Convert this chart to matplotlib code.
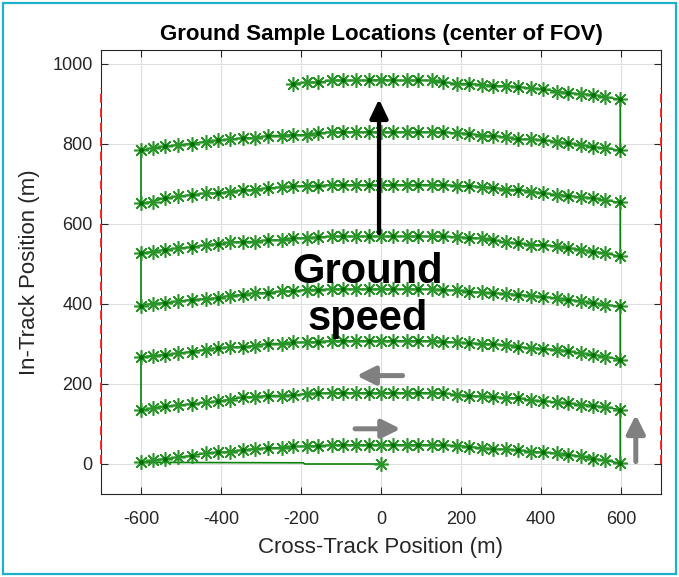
import matplotlib
matplotlib.use("Agg")
import matplotlib.pyplot as plt
from matplotlib.patches import Rectangle

# ---------------- data ----------------
x_cols = [-600, -571, -540, -507, -473, -438, -407, -378, -344, -315, -282, -248, -219,
          -186, -157, -123, -94, -63, -29, 0, 31, 64, 93, 127, 156, 189, 221, 252, 281,
          312, 343, 375, 406, 439, 468, 499, 531, 560, 598]

row1_y = [4, 9, 13, 17, 21, 27, 29, 31, 35, 38, 40, 41, 44, 44, 46, 47, 48, 48, 48, 48,
          48, 48, 48, 48, 47, 46, 43, 40, 37, 37, 34, 31, 29, 27, 23, 19, 13, 9, 2]
row2_y = [134, 140, 144, 147, 150, 154, 157, 161, 167, 168, 171, 171, 172, 176, 177, 178,
          178, 178, 178, 178, 178, 178, 178, 178, 177, 173, 171, 169, 168, 165, 165, 159,
          157, 155, 152, 148, 146, 142, 136]
row3_y = [267, 271, 273, 277, 281, 286, 290, 292, 293, 296, 301, 301, 304, 304, 306, 308,
          308, 308, 308, 308, 308, 308, 308, 308, 306, 304, 302, 301, 299, 298, 293, 290,
          288, 286, 282, 277, 273, 268, 261]
row4_y = [396, 401, 403, 407, 411, 413, 415, 421, 423, 428, 428, 432, 432, 436, 436, 437,
          437, 437, 437, 437, 437, 437, 437, 437, 435, 434, 431, 429, 427, 426, 423, 421,
          418, 415, 411, 407, 403, 398, 394]
row5_y = [527, 531, 535, 540, 542, 548, 550, 554, 556, 556, 560, 560, 565, 565, 567, 569,
          569, 569, 569, 569, 569, 569, 569, 569, 569, 567, 566, 564, 560, 554, 552, 548,
          548, 544, 540, 536, 531, 527, 519]
row6_y = [652, 656, 665, 669, 673, 677, 677, 681, 684, 686, 690, 692, 694, 696, 696, 698,
          698, 698, 698, 698, 698, 698, 698, 698, 698, 696, 695, 693, 691, 686, 686, 681,
          677, 673, 671, 667, 665, 659, 654]
row7_y = [784, 790, 794, 798, 801, 806, 809, 812, 815, 815, 821, 821, 823, 823, 827, 830,
          830, 830, 830, 830, 830, 830, 830, 830, 830, 827, 826, 821, 821, 817, 812, 812,
          809, 806, 802, 798, 792, 790, 784]
# partial last row starts at column index 12 (x = -219)
row8_start = 12
row8_y = [951, 954, 954, 959, 959, 959, 959, 961, 959, 959, 959, 959, 954, 951, 951, 948,
          946, 945, 943, 939, 937, 931, 928, 925, 923, 917, 912]

# path from the start point (0,0) back to the first row
approach_x = [0, -190, -195, -600]
approach_y = [0, 0, 3, 4]

# field-of-view edges (red dashed)
fov_x = [-700, 700]
fov_y = [0, 940]

# annotation arrows: (tail, tip)
speed_arrow = ((-5, 577), (-5, 912))
gray_arrows = [((54, 221), (-61, 221)),
               ((-65, 88), (49, 88)),
               ((637, 6), (637, 123))]
speed_text_x = -34
speed_text_y = [453, 335]
speed_text = ["Ground", "speed"]

xticks = [-600, -400, -200, 0, 200, 400, 600]
yticks = [0, 200, 400, 600, 800, 1000]

# ---------------- figure ----------------
plt.rcParams["font.family"] = ["Liberation Sans", "DejaVu Sans"]
plt.rcParams["axes.unicode_minus"] = False

W, H = 679, 577
fig = plt.figure(figsize=(W / 100, H / 100), dpi=100)
ax = fig.add_axes([101 / W, (H - 494) / H, (661 - 101) / W, (494 - 50) / H])

ax.set_xlim(-700, 700)
ax.set_ylim(-75, 1035)

line_green = "#0a820a"
star_green = "#2a962a"
dot_green = "#006e00"

rows = [row1_y, row2_y, row3_y, row4_y, row5_y, row6_y, row7_y]
px, py = list(approach_x), list(approach_y)
for i, ry in enumerate(rows):
    if i % 2 == 0:
        px += x_cols
        py += ry
    else:
        px += x_cols[::-1]
        py += ry[::-1]
row8_x = x_cols[row8_start:]
px += row8_x[::-1]
py += row8_y[::-1]

ax.plot(px, py, color=line_green, lw=1.2, zorder=3)

ast = (8, 2, 0)
MS, MEW = 10.5, 1.15
for ry in rows:
    ax.plot(x_cols, ry, ls="none", marker=ast, ms=MS, mew=MEW, color=star_green, zorder=4)
    ax.plot(x_cols, ry, ls="none", marker="o", ms=3.4, markevery=2, color=dot_green,
            mec="none", zorder=5)
ax.plot(row8_x, row8_y, ls="none", marker=ast, ms=MS, mew=MEW, color=star_green, zorder=4)
ax.plot(row8_x, row8_y, ls="none", marker="o", ms=3.4, markevery=2, color=dot_green,
        mec="none", zorder=5)
ax.plot(approach_x[:1], approach_y[:1], ls="none", marker=ast, ms=MS, mew=MEW,
        color=star_green, zorder=4)

for xe in fov_x:
    ax.plot([xe, xe], fov_y, color="#ff1a1a", ls=(0, (5, 3)), lw=1.3, clip_on=False, zorder=6)

# axes styling (MATLAB-like)
ax.set_xticks(xticks)
ax.set_yticks(yticks)
ax.grid(True, color="#dedede", lw=0.8)
ax.set_axisbelow(True)
for s in ax.spines.values():
    s.set_color("#262626")
    s.set_linewidth(0.8)
ax.tick_params(direction="in", length=5, width=0.8, top=True, right=True,
               color="#262626", labelcolor="#262626", labelsize=13)
ax.tick_params(axis="x", pad=12)
ax.tick_params(axis="y", pad=6)

ax.set_title("Ground Sample Locations (center of FOV)", fontsize=16, fontweight="bold",
             color="black", pad=7)
ax.set_xlabel("Cross-Track Position (m)", fontsize=16, color="#262626", labelpad=7)
ax.set_ylabel("In-Track Position (m)", fontsize=16, color="#262626", labelpad=9)

# annotations
ax.annotate("", xy=speed_arrow[1], xytext=speed_arrow[0],
            arrowprops=dict(arrowstyle="-|>,head_length=1.15,head_width=0.55",
                            lw=3.0, color="black", shrinkA=0, shrinkB=0),
            zorder=7)
for tail, tip in gray_arrows:
    ax.annotate("", xy=tip, xytext=tail,
                arrowprops=dict(arrowstyle="-|>,head_length=1.1,head_width=0.55",
                                lw=3.6, color="#808080", shrinkA=0, shrinkB=0),
                zorder=7)
for t, ty in zip(speed_text, speed_text_y):
    ax.text(speed_text_x, ty, t, fontsize=30, fontweight="bold", ha="center",
            va="baseline", color="black", zorder=8)

# outer cyan frame
fig.patches.append(Rectangle((3 / W, 3 / H), (W - 6) / W, (H - 6) / H,
                             transform=fig.transFigure, fill=False,
                             edgecolor="#1cb2cc", lw=1.6))

fig.savefig("out.png", dpi=100)
